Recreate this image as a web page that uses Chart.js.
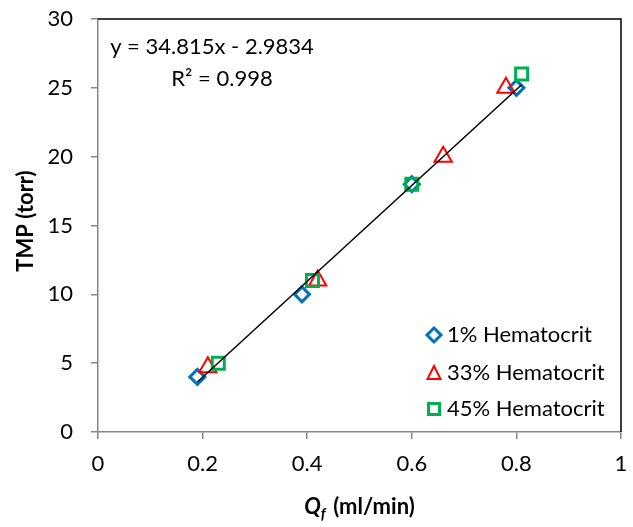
<!DOCTYPE html>
<html>
<head>
<meta charset="utf-8">
<script src="https://cdn.jsdelivr.net/npm/chart.js@4.4.1/dist/chart.umd.min.js"></script>
<style>
html,body{margin:0;padding:0;background:#fff;}
#wrap{width:633px;height:527px;position:relative;}
</style>
</head>
<body>
<div id="wrap"><canvas id="c" width="633" height="527"></canvas></div>
<script>
// ---- data ----
const seriesNames = ['1% Hematocrit', '33% Hematocrit', '45% Hematocrit'];
const hct1X = [0.19, 0.39, 0.60, 0.80];
const hct1Y = [4, 10, 18, 25];
const hct33X = [0.21, 0.42, 0.66, 0.78];
const hct33Y = [4.7, 11, 20, 25];
const hct45X = [0.23, 0.41, 0.60, 0.81];
const hct45Y = [5, 11, 18, 26];
const trendX = [0.19, 0.81];
const trendY = [3.63, 25.22];
const xTickLabels = ['0', '0.2', '0.4', '0.6', '0.8', '1'];
const yTickLabels = ['0', '5', '10', '15', '20', '25', '30'];
const equationText = 'y = 34.815x - 2.9834';
const r2Text = 'R² = 0.998';
const yTitle = 'TMP (torr)';
const xTitleMain = 'Q';
const xTitleSub = 'f';
const xTitleRest = ' (ml/min)';

const colors = ['#0070C0', '#FF0000', '#00B050'];
const styles = ['rectRot', 'triangle', 'rect'];
const radii = [7.5, 10, 8.5];
const borderWidths = [3, 2, 3];
const FONT = 'Lato, "Open Sans", sans-serif';

function pts(xs, ys){ return xs.map((x,i)=>({x:x, y:ys[i]})); }

const overlay = {
  id: 'overlay',
  afterDraw(chart){
    const ctx = chart.ctx, a = chart.chartArea;
    ctx.save();
    // box top/right
    ctx.strokeStyle = '#000'; ctx.lineWidth = 1.5;
    ctx.beginPath();
    ctx.moveTo(a.left, a.top); ctx.lineTo(a.right, a.top); ctx.lineTo(a.right, a.bottom);
    ctx.stroke();
    // equation
    ctx.fillStyle = '#000';
    ctx.font = '22px ' + FONT;
    ctx.textAlign = 'center'; ctx.textBaseline = 'middle';
    ctx.fillText(equationText, 212, 47);
    ctx.fillText(r2Text, 222, 79);
    // legend
    const ly = [335, 373, 409];
    ctx.font = '22px ' + FONT;
    ctx.textAlign = 'left';
    for (let i=0;i<3;i++){
      const cx = 434, cy = ly[i];
      ctx.strokeStyle = colors[i]; ctx.lineWidth = i===1 ? 2 : 3;
      ctx.beginPath();
      if (i===0){ ctx.moveTo(cx, cy-7); ctx.lineTo(cx+7, cy); ctx.lineTo(cx, cy+7); ctx.lineTo(cx-7, cy); ctx.closePath(); }
      else if (i===1){ ctx.moveTo(cx, cy-7); ctx.lineTo(cx+6.5, cy+6); ctx.lineTo(cx-6.5, cy+6); ctx.closePath(); }
      else { ctx.rect(cx-5.5, cy-5.5, 11, 11); }
      ctx.stroke();
      ctx.fillStyle = '#000';
      ctx.fillText(seriesNames[i], 447, cy);
    }
    // y title
    ctx.save();
    ctx.translate(26, 221);
    ctx.rotate(-Math.PI/2);
    ctx.font = 'bold 22px ' + FONT;
    ctx.textAlign = 'center'; ctx.textBaseline = 'middle';
    ctx.fillText(yTitle, 0, 0);
    ctx.restore();
    // x title
    ctx.font = 'italic bold 22px ' + FONT;
    const wQ = ctx.measureText(xTitleMain).width;
    ctx.font = 'italic bold 15px ' + FONT;
    const wF = ctx.measureText(xTitleSub).width;
    ctx.font = 'bold 22px ' + FONT;
    const wR = ctx.measureText(xTitleRest).width;
    const total = wQ + wF + 2 + wR;
    let x0 = (a.left + a.right)/2 - total/2;
    const by = 514;
    ctx.textAlign = 'left'; ctx.textBaseline = 'alphabetic';
    ctx.font = 'italic bold 22px ' + FONT;
    ctx.fillText(xTitleMain, x0, by); x0 += wQ;
    ctx.font = 'italic bold 15px ' + FONT;
    ctx.fillText(xTitleSub, x0, by + 5); x0 += wF + 2;
    ctx.font = 'bold 22px ' + FONT;
    ctx.fillText(xTitleRest, x0, by);
    ctx.restore();
  }
};

const scatterSets = [[hct1X,hct1Y],[hct33X,hct33Y],[hct45X,hct45Y]].map((s,i)=>({
  type: 'scatter',
  label: seriesNames[i],
  data: pts(s[0], s[1]),
  pointStyle: styles[i],
  pointRadius: radii[i],
  pointHoverRadius: radii[i],
  pointBorderWidth: borderWidths[i],
  borderColor: colors[i],
  backgroundColor: 'rgba(0,0,0,0)',
  showLine: false,
  order: 3 - i
}));

new Chart(document.getElementById('c'), {
  type: 'scatter',
  data: {
    datasets: [
      ...scatterSets,
      {
        type: 'line',
        label: 'trend',
        data: pts(trendX, trendY),
        borderColor: '#000',
        borderWidth: 1.5,
        pointRadius: 0,
        fill: false,
        order: 0
      }
    ]
  },
  options: {
    responsive: false,
    animation: false,
    events: [],
    layout: { padding: { top: 19, right: 6, left: 0, bottom: 0 } },
    plugins: { legend: { display: false }, tooltip: { enabled: false } },
    scales: {
      x: {
        type: 'linear', min: 0, max: 1,
        afterFit(s){ s.height = 95; s.paddingLeft = 0; s.paddingRight = 0; },
        afterBuildTicks(s){ s.ticks = xTickLabels.map(v=>({value: parseFloat(v)})); },
        ticks: { callback: (v,i)=>xTickLabels[i], color: '#000', font: { family: FONT, size: 22 }, padding: 12, maxRotation: 0, autoSkip: false },
        grid: { drawOnChartArea: false, tickLength: 7, color: '#868686', lineWidth: 1.5 },
        border: { color: '#868686', width: 1.5 }
      },
      y: {
        type: 'linear', min: 0, max: 30,
        afterFit(s){ s.width = 98; s.paddingTop = 0; s.paddingBottom = 0; },
        afterBuildTicks(s){ s.ticks = yTickLabels.map(v=>({value: parseFloat(v)})); },
        ticks: { callback: (v,i)=>yTickLabels[i], color: '#000', font: { family: FONT, size: 22 }, padding: 18, autoSkip: false },
        grid: { drawOnChartArea: false, tickLength: 7, color: '#868686', lineWidth: 1.5 },
        border: { color: '#868686', width: 1.5 }
      }
    }
  },
  plugins: [overlay]
});
</script>
</body>
</html>
